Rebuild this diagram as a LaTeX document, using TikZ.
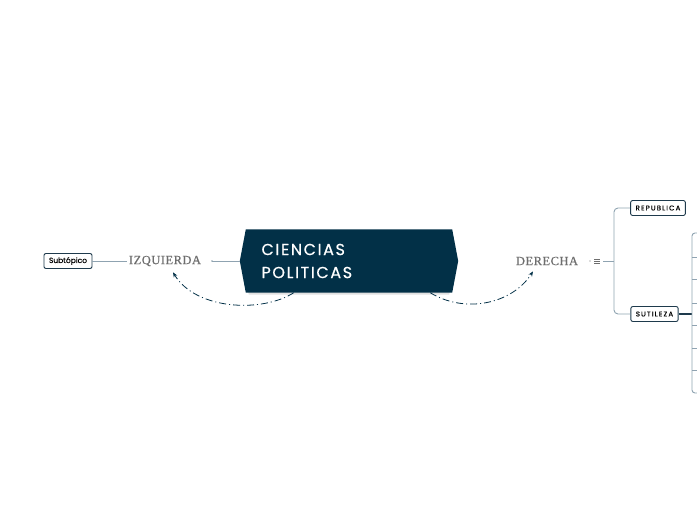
\documentclass[tikz,border=0pt]{standalone}
\usepackage{fontspec}
\setmainfont{Poppins}
\newfontfamily\topicfont{Liberation Serif}[LetterSpace=4,FakeBold=0.6]
\newfontfamily\centerfont{Poppins}[LetterSpace=10,FakeBold=0.6]
\newfontfamily\boxfont{Poppins}[LetterSpace=16,FakeBold=0.3]
\newfontfamily\subfont{Poppins}[FakeBold=0.3]
\usetikzlibrary{arrows.meta,positioning}

\definecolor{navy}{HTML}{023047}
\definecolor{branch}{HTML}{8FA3B1}
\definecolor{boxline}{HTML}{1E3A4C}
\definecolor{topicgray}{HTML}{6E6E6E}

\tikzset{
	mainnode/.style={minimum width=212pt, minimum height=63pt, inner sep=0pt},
	topic/.style={font=\topicfont\fontsize{12.5}{14}\selectfont, text=topicgray, inner sep=2pt},
	subbox/.style={draw=boxline, line width=0.9pt, rounded corners=2pt, fill=white,
		font=\boxfont\fontsize{7}{8}\selectfont, minimum height=15pt, inner xsep=5pt, inner ysep=0pt},
	twig/.style={draw=branch, line width=0.9pt},
	relation/.style={draw=navy, line width=0.8pt, dash pattern=on 7pt off 3pt on 1pt off 3pt, -{Stealth[length=5pt,width=4pt]}},
}

\begin{document}
\begin{tikzpicture}[x=1pt, y=-1pt]
	\useasboundingbox (0,0) rectangle (697,520);
	% central topic
	\node[mainnode] (cp) at (349,261) {};
	\fill[black!12] ([xshift=6pt,yshift=-2pt]cp.north west) -- ([xshift=-6pt,yshift=-2pt]cp.north east) -- ([xshift=1pt,yshift=-2pt]cp.east) -- ([xshift=-6pt,yshift=-2pt]cp.south east) -- ([xshift=6pt,yshift=-2pt]cp.south west) -- ([xshift=-1pt,yshift=-2pt]cp.west) -- cycle;
	\fill[navy] ([xshift=3pt]cp.north west) -- ([xshift=-3pt]cp.north east) -- ([xshift=3pt]cp.east) -- ([xshift=-3pt]cp.south east) -- ([xshift=3pt]cp.south west) -- ([xshift=-3pt]cp.west) -- cycle;
	\node[anchor=west, align=left, text=white, font=\centerfont\fontsize{16}{23}\selectfont] (cptext) at (258,261) {CIENCIAS\\POLITICAS};
	% main topics
	\node[topic] (iz) at (165,261) {IZQUIERDA};
	\node[topic] (der) at (547,261) {DERECHA};
	\node[subbox, font=\subfont\fontsize{7.5}{8}\selectfont] (sub) at (68,261) {Subtópico};
	\node[subbox] (rep) at (658,208) {REPUBLICA};
	\node[subbox] (sut) at (654.5,314) {SUTILEZA};
	% links
	\draw[twig] ([xshift=-3pt]cp.west) -- (212,261);
	\fill[branch] (212,261) circle (0.8pt);
	\draw[twig] (sub) -- (iz);
	\fill[topicgray] (590,261) circle (0.7pt);
	\foreach \dy in {-2,0,2} \draw[topicgray, line width=0.5pt] (594,261+\dy) -- (600,261+\dy);
	\draw[twig] (603,261) -- (614,261);
	\draw[twig, rounded corners=4pt] (rep.west) -| (614,261) |- (sut.west);
	\draw[draw=boxline, line width=1.4pt] (sut.east) -- (692,314);
	\draw[twig, rounded corners=3pt] (697,233) -| (692,314) |- (697,393);
	\foreach \y in {257,279,303,325,348,370} \draw[twig] (692,\y) -- (697,\y);
	% relations
	\draw[relation] ([xshift=51pt]cp.south west) .. controls (262,313) and (196,310) .. ([xshift=8pt,yshift=-4pt]iz.south);
	\draw[relation] ([xshift=-25pt]cp.south east) .. controls (465,314) and (512,304) .. ([xshift=-14pt,yshift=-4pt]der.south);
\end{tikzpicture}
\end{document}
